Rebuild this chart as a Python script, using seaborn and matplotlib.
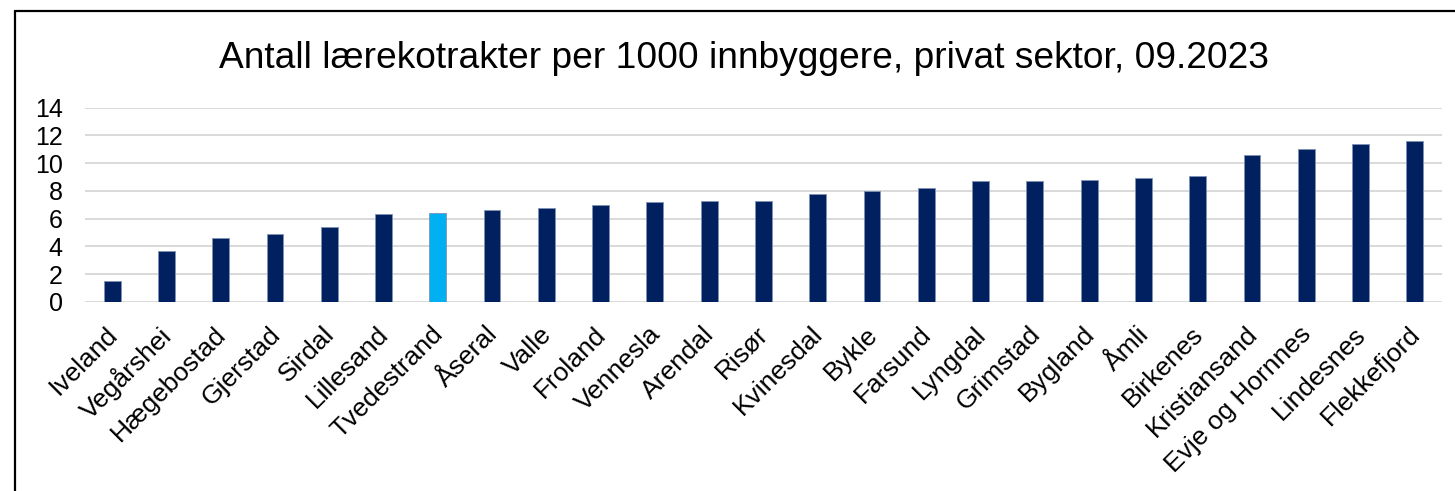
import matplotlib
matplotlib.use("Agg")
import matplotlib.pyplot as plt
import matplotlib.transforms as mtransforms
import seaborn as sns
import pandas as pd
from matplotlib.lines import Line2D

# data
kommuner = ["Iveland", "Vegårshei", "Hægebostad", "Gjerstad", "Sirdal", "Lillesand",
            "Tvedestrand", "Åseral", "Valle", "Froland", "Vennesla", "Arendal", "Risør",
            "Kvinesdal", "Bykle", "Farsund", "Lyngdal", "Grimstad", "Bygland", "Åmli",
            "Birkenes", "Kristiansand", "Evje og Hornnes", "Lindesnes", "Flekkefjord"]
verdier = [1.5, 3.7, 4.6, 4.9, 5.4, 6.3, 6.4, 6.6, 6.8, 7.0, 7.2, 7.3, 7.3,
           7.8, 8.0, 8.2, 8.7, 8.7, 8.8, 8.9, 9.1, 10.6, 11.0, 11.4, 11.6]
uthevet = "Tvedestrand"

df = pd.DataFrame({"kommune": kommuner, "verdi": verdier})
farger = ["#00B0F0" if k == uthevet else "#002060" for k in kommuner]

sns.set_theme(style="white")
plt.rcParams["font.family"] = ["Liberation Sans", "DejaVu Sans"]

fig = plt.figure(figsize=(14.55, 4.91), dpi=100)
ax = fig.add_axes([0.0584, 0.385, 0.9326, 0.396])

sns.barplot(data=df, x="kommune", y="verdi", hue="kommune", palette=farger,
            saturation=1, legend=False, width=0.31, edgecolor="#7f93b5",
            linewidth=0.6, ax=ax, zorder=3)

ax.set_ylim(0, 14)
ax.set_yticks(range(0, 15, 2))
ax.set_xlim(-0.5, len(kommuner) - 0.5)
ax.yaxis.grid(True, color="#d9d9d9", linewidth=1.4, zorder=0)
ax.set_axisbelow(True)
for s in ax.spines.values():
    s.set_visible(False)
ax.set_xlabel("")
ax.set_ylabel("")
ax.tick_params(axis="y", length=0, pad=16, labelsize=18, labelcolor="black")
ax.tick_params(axis="x", length=0, pad=8, labelsize=19, labelcolor="black")

# Excel-style placement: end of each rotated label a bit right of and below the bar
shift = mtransforms.ScaledTranslation(10 / 100, -9 / 100, fig.dpi_scale_trans)
for lbl in ax.get_xticklabels():
    lbl.set_rotation(45)
    lbl.set_ha("right")
    lbl.set_va("top")
    lbl.set_transform(lbl.get_transform() + shift)

fig.text(0.511, 0.880, "Antall lærekotrakter per 1000 innbyggere, privat sektor, 09.2023",
         ha="center", va="center", fontsize=26.7, color="black")

# chart frame (left and top edges)
fig.add_artist(Line2D([15 / 1455, 15 / 1455], [0, 1 - 11 / 491], color="black", linewidth=1.6))
fig.add_artist(Line2D([15 / 1455, 1], [1 - 11 / 491, 1 - 11 / 491], color="black", linewidth=1.6))

fig.savefig("out.png", dpi=100)
